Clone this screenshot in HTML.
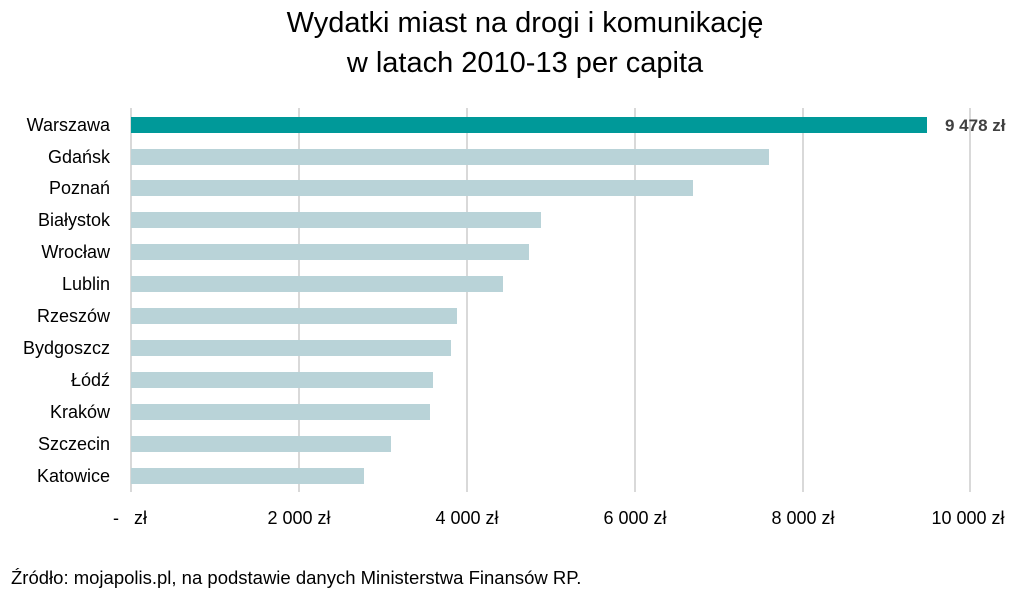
<!DOCTYPE html>
<html><head><meta charset="utf-8"><style>
body{margin:0;width:1014px;height:590px;background:#fff;position:relative;overflow:hidden;font-family:"Liberation Sans",sans-serif;color:#000}
div{position:absolute}
.t{left:0;width:1050px;text-align:center;font-size:29px;line-height:34px}
.g{top:108px;height:384px;width:2px;background:#d9d9d9}
.b{left:131px;height:16px;background:#b9d3d8}
.l{right:904px;font-size:18px;text-align:right;white-space:nowrap;line-height:18px}
.x{top:508px;font-size:18px;white-space:nowrap;transform:translateX(-50%)}
</style></head><body>
<div class="t" style="top:6px">Wydatki miast na drogi i komunikację</div>
<div class="t" style="top:46px">w latach 2010-13 per capita</div>
<div class="g" style="left:130px"></div>
<div class="g" style="left:298px"></div>
<div class="g" style="left:466px"></div>
<div class="g" style="left:634px"></div>
<div class="g" style="left:802px"></div>
<div class="g" style="left:969px"></div>

<div class="b" style="top:117px;width:796px;background:#009999"></div>
<div style="left:945px;top:116px;font-size:17px;font-weight:bold;color:#404040">9 478 zł</div>
<div class="b" style="top:149px;width:638px"></div>
<div class="b" style="top:180px;width:562px"></div>
<div class="b" style="top:212px;width:410px"></div>
<div class="b" style="top:244px;width:398px"></div>
<div class="b" style="top:276px;width:372px"></div>
<div class="b" style="top:308px;width:326px"></div>
<div class="b" style="top:340px;width:320px"></div>
<div class="b" style="top:372px;width:302px"></div>
<div class="b" style="top:404px;width:299px"></div>
<div class="b" style="top:436px;width:260px"></div>
<div class="b" style="top:468px;width:233px"></div>

<div class="l" style="top:116px">Warszawa</div>
<div class="l" style="top:148px">Gdańsk</div>
<div class="l" style="top:179px">Poznań</div>
<div class="l" style="top:211px">Białystok</div>
<div class="l" style="top:243px">Wrocław</div>
<div class="l" style="top:275px">Lublin</div>
<div class="l" style="top:307px">Rzeszów</div>
<div class="l" style="top:339px">Bydgoszcz</div>
<div class="l" style="top:371px">Łódź</div>
<div class="l" style="top:403px">Kraków</div>
<div class="l" style="top:435px">Szczecin</div>
<div class="l" style="top:467px">Katowice</div>

<div style="left:113px;top:508px;font-size:18px">-&nbsp;&nbsp;&nbsp;zł</div>
<div class="x" style="left:299px">2 000 zł</div>
<div class="x" style="left:467px">4 000 zł</div>
<div class="x" style="left:635px">6 000 zł</div>
<div class="x" style="left:803px">8 000 zł</div>
<div class="x" style="left:968px">10 000 zł</div>

<div style="left:11px;top:567px;font-size:18.5px">Źródło: mojapolis.pl, na podstawie danych Ministerstwa Finansów RP.</div>
</body></html>
